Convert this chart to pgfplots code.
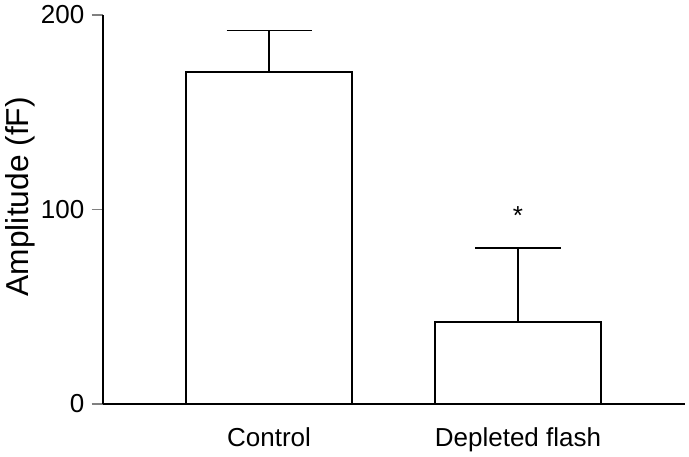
\documentclass[border=0pt]{standalone}
\usepackage{fontspec}
\setmainfont{Liberation Sans}
\usepackage{pgfplots}
\pgfplotsset{compat=1.18}

\begin{document}
\begin{tikzpicture}
\begin{axis}[
    scale only axis,
    width=436.5pt, height=291.75pt,
    font=\fontsize{19.5}{23}\selectfont,
    /pgf/number format/assume math mode=true,
    xmin=0.333, xmax=2.671,
    ymin=0, ymax=200,
    axis lines=left,
    axis line style={-, line width=1.3pt},
    xtick={1,2},
    xticklabels={Control, Depleted flash},
    xtick style={draw=none},
    x tick label style={yshift=-6pt},
    ytick={0,100,200},
    ytick style={line width=1.3pt},
    tick align=outside,
    major tick length=8.5pt,
    y tick label style={xshift=-2pt},
    ylabel={Amplitude (fF)},
    ylabel style={at={(axis description cs:-0.1426,0.533)}, anchor=center,
        font=\fontsize{23.8}{28}\selectfont},
    clip=false,
]
\addplot[ybar, bar width=0.667, fill=white, draw=black, line width=1.3pt,
    error bars/.cd, y dir=plus, y explicit,
    error bar style={line width=1.3pt},
    error mark options={rotate=90, mark size=31.9pt, line width=1.3pt}]
  coordinates {(1,170.8) +- (0,21.3) (2,42.3) +- (0,37.8)};
\node[font=\fontsize{19.5}{23}\selectfont] at (axis cs:2,97) {*};
\path (rel axis cs:-0.177,1.0386) (rel axis cs:1.00687,-0.1183);
\end{axis}
\end{tikzpicture}
\end{document}
